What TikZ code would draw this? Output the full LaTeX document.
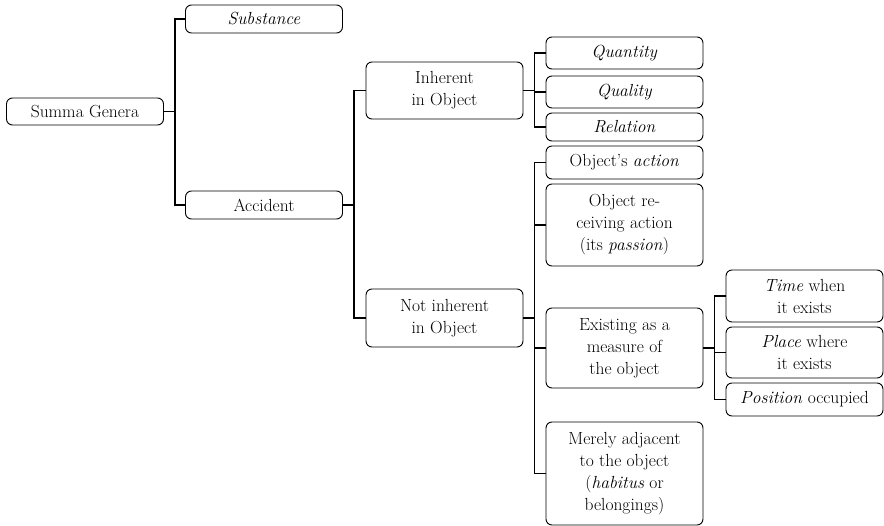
\documentclass[tikz,border=0pt]{standalone}
\begin{document}
\begin{tikzpicture}[x=1pt,y=-1pt,
  box/.style={draw=black, line width=0.9pt, rounded corners=6pt, minimum width=157pt,
    align=center, inner sep=1pt, font=\fontsize{17.5}{22}\selectfont},
  link/.style={draw=black, line width=1.3pt}]
\useasboundingbox (0,0) rectangle (884,526);
\node[box, minimum height=27pt] (sg) at (85,111.5) {Summa Genera};
\node[box, minimum height=28pt] (sub) at (264,19) {\emph{Substance}};
\node[box, minimum height=28pt] (acc) at (264,205) {Accident};
\node[box, minimum height=57pt] (inh) at (444.5,90.5) {Inherent\\in Object};
\node[box, minimum height=58pt] (ninh) at (444.5,318) {Not inherent\\in Object};
\node[box, minimum height=32pt] (qty) at (624.5,53) {\emph{Quantity}};
\node[box, minimum height=32pt] (qual) at (624.5,92) {\emph{Quality}};
\node[box, minimum height=28pt] (rel) at (624.5,127) {\emph{Relation}};
\node[box, minimum height=33pt] (act) at (624.5,162.5) {Object's \emph{action}};
\node[box, minimum height=82pt] (recv) at (624.5,225) {Object re-\\ceiving action\\(its \emph{passion})};
\node[box, minimum height=80pt] (exist) at (624.5,348) {Existing as a\\measure of\\the object};
\node[box, minimum height=103pt] (mere) at (624.5,473.5) {Merely adjacent\\to the object\\(\emph{habitus} or\\belongings)};
\node[box, minimum height=52pt] (time) at (804.5,296) {\emph{Time} when\\it exists};
\node[box, minimum height=51pt] (place) at (804.5,352.5) {\emph{Place} where\\it exists};
\node[box, minimum height=33pt] (pos) at (804.5,399.5) {\emph{Position} occupied};
\foreach \c in {sub,acc} \draw[link] (sg.east) -- ++(11,0) |- (\c.west);
\foreach \c in {inh,ninh} \draw[link] (acc.east) -- ++(11,0) |- (\c.west);
\foreach \c in {qty,qual,rel} \draw[link] (inh.east) -- ++(11,0) |- (\c.west);
\foreach \c in {act,recv,exist,mere} \draw[link] (ninh.east) -- ++(11,0) |- (\c.west);
\foreach \c in {time,place,pos} \draw[link] (exist.east) -- ++(11,0) |- (\c.west);
\end{tikzpicture}
\end{document}
